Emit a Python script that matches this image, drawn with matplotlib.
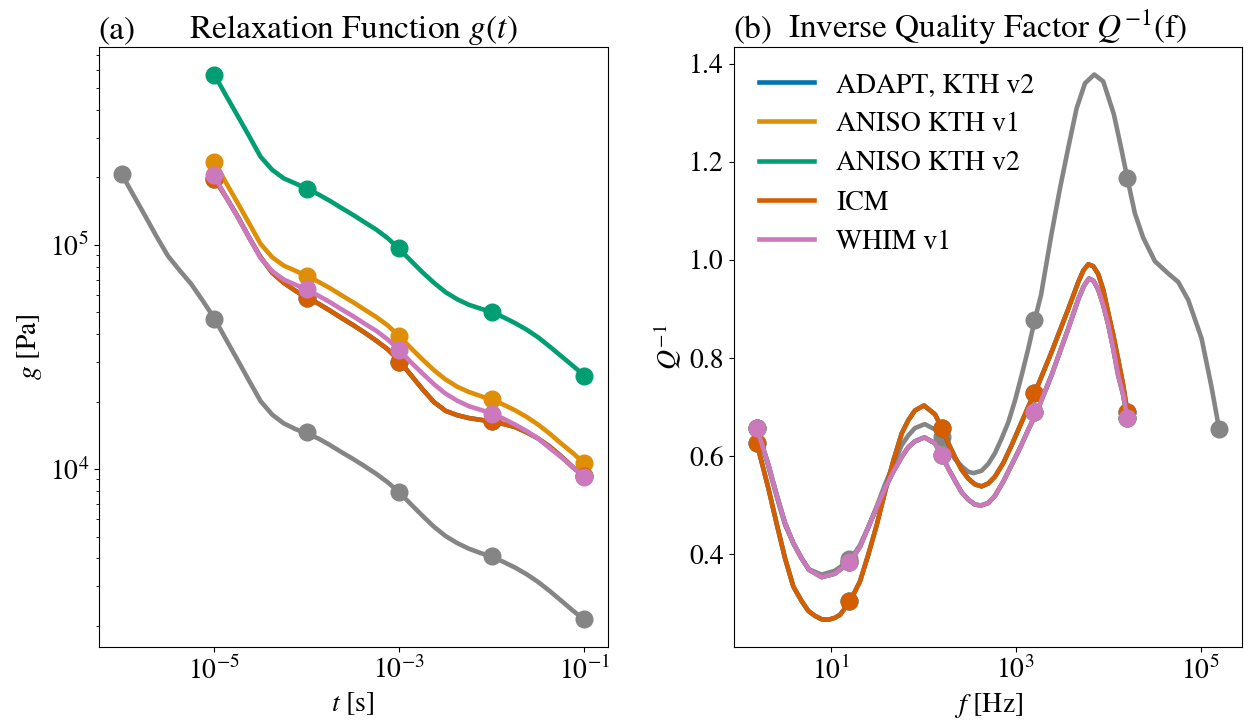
import matplotlib
matplotlib.use("Agg")
import matplotlib.pyplot as plt
from matplotlib.ticker import NullLocator

plt.rcParams['font.family'] = 'STIXGeneral'
plt.rcParams['mathtext.fontset'] = 'stix'
plt.rcParams['font.size'] = 20

# ---- (a) relaxation function g(t) ----
# markers
t_pts = [1e-5, 1e-4, 1e-3, 1e-2, 1e-1]
t_pts_ref = [1e-6, 1e-5, 1e-4, 1e-3, 1e-2, 1e-1]
g_ref_pts = [2.07e5, 4.69e4, 1.46e4, 7.89e3, 4.09e3, 2.14e3]
g_aniso1_pts = [2.35e5, 7.28e4, 3.93e4, 2.05e4, 1.07e4]
g_aniso2_pts = [5.75e5, 1.78e5, 9.7e4, 5.04e4, 2.60e4]
g_icm_pts = [1.97e5, 5.82e4, 2.99e4, 1.64e4, 9.3e3]
g_whim_pts = [2.05e5, 6.34e4, 3.39e4, 1.77e4, 9.2e3]

# curves
t_line_ref = [1.00e-6, 1.33e-6, 1.78e-6, 2.37e-6, 3.16e-6, 4.22e-6, 5.62e-6, 7.50e-6,
              1.00e-5, 1.33e-5, 1.78e-5, 2.37e-5, 3.16e-5, 4.22e-5, 5.62e-5, 7.50e-5,
              1.00e-4, 1.33e-4, 1.78e-4, 2.37e-4, 3.16e-4, 4.22e-4, 5.62e-4, 7.50e-4,
              1.00e-3, 1.33e-3, 1.78e-3, 2.37e-3, 3.16e-3, 4.22e-3, 5.62e-3, 7.50e-3,
              1.00e-2, 1.33e-2, 1.78e-2, 2.37e-2, 3.16e-2, 4.22e-2, 5.62e-2, 7.50e-2,
              1.00e-1]
t_line = t_line_ref[8:]
g_ref = [2.06e5, 1.67e5, 1.35e5, 1.09e5, 8.91e4, 7.69e4, 6.69e4, 5.63e4,
         4.70e4, 3.80e4, 3.07e4, 2.48e4, 2.01e4, 1.75e4, 1.60e4, 1.51e4,
         1.44e4, 1.37e4, 1.28e4, 1.19e4, 1.11e4, 1.03e4, 9.53e3, 8.73e3,
         7.87e3, 6.98e3, 6.19e3, 5.53e3, 5.03e3, 4.68e3, 4.42e3, 4.23e3,
         4.07e3, 3.86e3, 3.64e3, 3.40e3, 3.14e3, 2.86e3, 2.59e3, 2.34e3,
         2.13e3]
g_aniso1 = [2.35e5, 1.90e5, 1.54e5, 1.25e5, 1.01e5, 8.81e4, 8.08e4, 7.67e4,
            7.26e4, 6.85e4, 6.41e4, 5.96e4, 5.55e4, 5.14e4, 4.77e4, 4.37e4,
            3.91e4, 3.47e4, 3.08e4, 2.76e4, 2.51e4, 2.33e4, 2.21e4, 2.12e4,
            2.04e4, 1.94e4, 1.83e4, 1.71e4, 1.58e4, 1.44e4, 1.30e4, 1.18e4,
            1.06e4]
g_aniso2 = [5.75e5, 4.65e5, 3.77e5, 3.06e5, 2.47e5, 2.16e5, 1.98e5, 1.88e5,
            1.78e5, 1.68e5, 1.57e5, 1.46e5, 1.36e5, 1.26e5, 1.17e5, 1.07e5,
            9.58e4, 8.50e4, 7.54e4, 6.77e4, 6.15e4, 5.72e4, 5.41e4, 5.20e4,
            5.01e4, 4.76e4, 4.48e4, 4.19e4, 3.87e4, 3.52e4, 3.19e4, 2.89e4,
            2.61e4]
g_icm = [1.97e5, 1.64e5, 1.34e5, 1.08e5, 8.81e4, 7.51e4, 6.77e4, 6.25e4,
         5.81e4, 5.47e4, 5.09e4, 4.72e4, 4.39e4, 4.06e4, 3.74e4, 3.42e4,
         3.04e4, 2.63e4, 2.27e4, 1.99e4, 1.82e4, 1.74e4, 1.69e4, 1.66e4,
         1.63e4, 1.59e4, 1.54e4, 1.46e4, 1.37e4, 1.26e4, 1.14e4, 1.02e4,
         9.30e3]
g_whim = [2.03e5, 1.64e5, 1.33e5, 1.08e5, 8.73e4, 7.64e4, 7.00e4, 6.65e4,
          6.29e4, 5.94e4, 5.55e4, 5.16e4, 4.81e4, 4.45e4, 4.14e4, 3.78e4,
          3.39e4, 3.00e4, 2.67e4, 2.39e4, 2.17e4, 2.02e4, 1.91e4, 1.84e4,
          1.77e4, 1.68e4, 1.58e4, 1.48e4, 1.37e4, 1.24e4, 1.13e4, 1.02e4,
          9.23e3]

# ---- (b) inverse quality factor ----
f_pts = [1.59, 15.9, 159, 1590, 15900]
f_pts_ref = [1.59, 15.9, 159, 1590, 15900, 159000]
q_ref_pts = [0.657, 0.39, 0.638, 0.878, 1.166, 0.655]
q_icm_pts = [0.626, 0.304, 0.658, 0.729, 0.689]
q_whim_pts = [0.657, 0.384, 0.602, 0.689, 0.677]

f_ref = [1.59, 2.12, 2.61, 3.21, 3.94, 4.85, 5.81, 7.98, 11.1, 16.2, 20.7, 25.5, 31.4,
         38.6, 47.5, 58.5, 69, 81.5, 104, 134, 158, 187, 220, 260, 307, 348, 428, 505,
         597, 705, 832, 982, 1160, 1370, 1610, 1880, 2400, 3010, 3700, 4550, 5600, 7060,
         8830, 11500, 13900, 16100, 19400, 23900, 32000, 44600, 57100, 73300, 102000,
         131000, 158000]
q_ref = [0.657, 0.578, 0.517, 0.459, 0.423, 0.391, 0.369, 0.358, 0.366, 0.388, 0.418,
         0.455, 0.497, 0.542, 0.582, 0.622, 0.642, 0.657, 0.665, 0.654, 0.638, 0.615,
         0.594, 0.579, 0.568, 0.565, 0.570, 0.584, 0.606, 0.636, 0.669, 0.713, 0.765,
         0.820, 0.878, 0.929, 1.046, 1.146, 1.229, 1.309, 1.360, 1.378, 1.364, 1.297,
         1.225, 1.166, 1.095, 1.045, 0.997, 0.972, 0.955, 0.918, 0.84, 0.74, 0.655]
f_icm = [1.59, 2.12, 2.61, 3.21, 3.94, 4.85, 5.73, 6.76, 7.98, 9.42, 11.1, 12.6, 16.2,
         20.7, 25.5, 31.4, 38.6, 47.5, 58.5, 69, 81.5, 102, 134, 158, 187, 220, 260, 307,
         363, 428, 505, 597, 735, 903, 1110, 1370, 1610, 2440, 3700, 4750, 5370, 6080,
         6890, 7800, 8830, 10000, 11300, 12800, 14500, 16100]
q_icm = [0.626, 0.534, 0.461, 0.391, 0.334, 0.304, 0.284, 0.274, 0.267, 0.266, 0.270,
         0.276, 0.304, 0.344, 0.399, 0.459, 0.527, 0.590, 0.646, 0.673, 0.693, 0.703,
         0.685, 0.658, 0.626, 0.598, 0.572, 0.554, 0.542, 0.538, 0.544, 0.558, 0.586,
         0.622, 0.661, 0.701, 0.729, 0.812, 0.900, 0.955, 0.978, 0.991, 0.987, 0.971,
         0.939, 0.892, 0.848, 0.797, 0.745, 0.689]
f_whim = [1.59, 2.12, 2.61, 3.21, 3.94, 4.85, 5.81, 7.98, 11.1, 16.2, 20.7, 25.5, 31.4,
          38.6, 47.5, 58.5, 69, 81.5, 103, 134, 158, 187, 220, 260, 307, 363, 421, 505,
          597, 735, 903, 1110, 1370, 1680, 2440, 3700, 4750, 5470, 6180, 6950, 7800,
          8830, 10000, 11300, 12800, 14500, 16100]
q_whim = [0.657, 0.582, 0.520, 0.463, 0.422, 0.391, 0.368, 0.353, 0.360, 0.384, 0.415,
          0.455, 0.495, 0.534, 0.568, 0.598, 0.618, 0.630, 0.638, 0.626, 0.602, 0.574,
          0.550, 0.526, 0.511, 0.501, 0.499, 0.504, 0.519, 0.548, 0.582, 0.616, 0.654,
          0.689, 0.765, 0.860, 0.920, 0.947, 0.962, 0.957, 0.939, 0.908, 0.868, 0.820,
          0.765, 0.725, 0.677]

labels = ['ADAPT, KTH v2', 'ANISO KTH v1', 'ANISO KTH v2', 'ICM', 'WHIM v1']
colors = ['#0173b2', '#de8f05', '#029e73', '#d55e00', '#cc78bc']
ref_color = '#858585'

fig, (ax1, ax2) = plt.subplots(1, 2, figsize=(12.5, 7.27), dpi=100)
fig.subplots_adjust(left=0.079, right=0.994, bottom=0.11, top=0.935, wspace=0.248)

lw = 3.3
ms = 12

# left panel: ADAPT lies under ICM
ax1.plot(t_line_ref, g_ref, color=ref_color, lw=lw)
ax1.plot(t_pts_ref, g_ref_pts, 'o', color=ref_color, ms=ms)
left_lines = [g_icm, g_aniso1, g_aniso2, g_icm, g_whim]
left_pts = [g_icm_pts, g_aniso1_pts, g_aniso2_pts, g_icm_pts, g_whim_pts]
for g, gp, c in zip(left_lines, left_pts, colors):
    ax1.plot(t_line, g, color=c, lw=lw)
    ax1.plot(t_pts, gp, 'o', color=c, ms=ms)
ax1.set_xscale('log')
ax1.set_yscale('log')
ax1.set_xticks([1e-5, 1e-3, 1e-1])
ax1.xaxis.set_minor_locator(NullLocator())
ax1.set_xlabel('$t$ [s]')
ax1.set_ylabel('$g$ [Pa]')
ax1.set_title('(a)', loc='left')
ax1.set_title('Relaxation Function $g(t)$')

# right panel: ANISO curves lie under WHIM, ADAPT under ICM
ax2.plot(f_ref, q_ref, color=ref_color, lw=lw)
ax2.plot(f_pts_ref, q_ref_pts, 'o', color=ref_color, ms=ms)
right_f = [f_icm, f_whim, f_whim, f_icm, f_whim]
right_q = [q_icm, q_whim, q_whim, q_icm, q_whim]
right_pts = [q_icm_pts, q_whim_pts, q_whim_pts, q_icm_pts, q_whim_pts]
for f, q, qp, c, lab in zip(right_f, right_q, right_pts, colors, labels):
    ax2.plot(f, q, color=c, lw=lw, label=lab)
    ax2.plot(f_pts, qp, 'o', color=c, ms=ms)
ax2.set_xscale('log')
ax2.set_xticks([1e1, 1e3, 1e5])
ax2.xaxis.set_minor_locator(NullLocator())
ax2.set_xlabel('$f$ [Hz]')
ax2.set_ylabel('$Q^{-1}$')
ax2.set_title('(b)', loc='left')
ax2.set_title('Inverse Quality Factor $Q^{-1}$(f)')
ax2.legend(loc='upper left', frameon=False)

fig.savefig('out.png')
